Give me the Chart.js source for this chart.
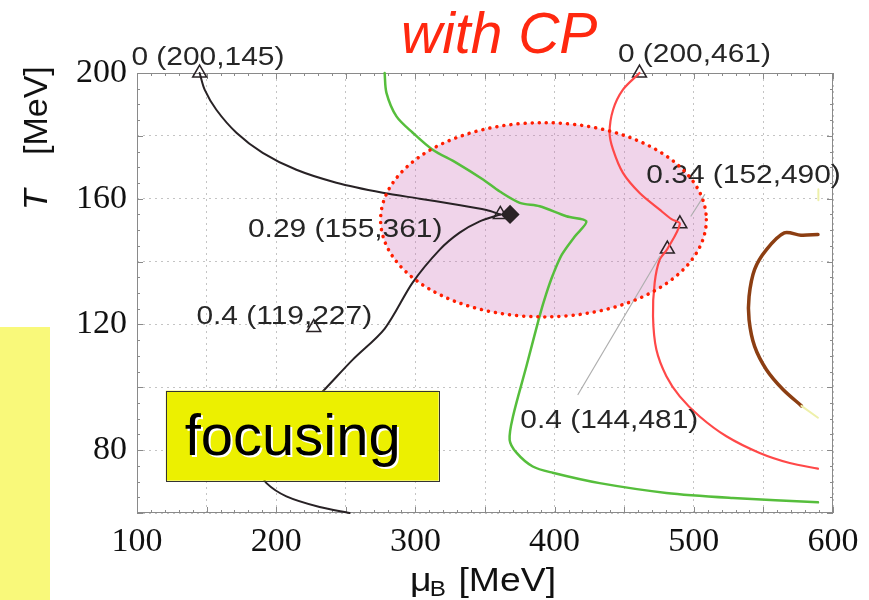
<!DOCTYPE html>
<html>
<head>
<meta charset="utf-8">
<script src="https://cdn.jsdelivr.net/npm/chart.js@4.4.1/dist/chart.umd.min.js"></script>
<style>
  html, body { margin: 0; padding: 0; background: #fff; }
  #wrap { position: relative; width: 869px; height: 600px; }
</style>
</head>
<body>
<div id="wrap"><canvas id="c" width="869" height="600"></canvas></div>
<script>
// Freeze-out trajectories in the (muB, T) plane, both in MeV: [muB, T]
const blackUpper = [[145,200],[148.6,194.7],[157,188.3],[171.4,181],[190.3,174.6],[214.5,169.2],[243.2,165.1],[276.5,161.9],[303.1,160],[326.8,158.3],[351,156.4],[361,155]];
const blackLower = [[252.8,60],[231.2,61.9],[207.3,65.3],[193,69.5],[190.3,72.5],[195.3,77],[209.7,86.5],[224,94.5],[234.8,99.3],[255,108.8],[278,118.7],[298,133.3],[317.5,143.8],[331.8,149.2],[346.2,152.8],[361,155]];
const greenLine = [[277.9,200],[279.2,193.7],[286.4,186.2],[298.1,181],[312.4,175.6],[329.5,171.4],[348.6,166.1],[360.6,162.3],[375,158.7],[389.3,157.6],[408.5,154.4],[422.8,152.8],[414.5,148],[405.2,142.2],[398.8,135.8],[393.8,129.5],[389.3,122.8],[379.7,106.6],[370.1,90.7],[367.7,83.3],[372.6,79.2],[384.3,74.8],[398.6,72.8],[432.4,69.5],[480.3,66.4],[528,64.8],[589.2,63.4]];
const redLine = [[461,200],[449.1,194.7],[442,188.3],[439.5,180.9],[442,175.6],[449.1,168.2],[461.1,161.8],[475.5,156.5],[484,153.5],[490,152],[481,144],[475.5,140.6],[471.9,133.3],[470.7,122.6],[473.1,112],[480.3,103.5],[489.9,97.1],[504.2,90.7],[523.4,84.4],[547.3,79.1],[568.9,75.9],[589.2,74.1]];
const brownLine = [[589.2,148.6],[577,148.4],[565,149.1],[552.2,143.8],[543.7,137.5],[539.7,128.9],[539.7,121.5],[543.7,113],[552.2,105.6],[564.1,99.3],[577.3,94.1]];
const brownTail = [[577.3,94.1],[589.2,90.3]];
const paleTick = [[589.5,163],[589.5,159.5]];

// Marked points on the trajectories and the critical point
const blackMarks = [[145,200],[361,155],[227,119]];
const redMarks = [[461,200],[490,152],[481,144]];
const criticalPoint = [[368,155]];

// Point labels and where their text starts (left, baseline) in [muB, T]
const markLabels = ['0 (200,145)','0.29 (155,361)','0.4 (119,227)','0 (200,461)','0.34 (152,490)','0.4 (144,481)'];
const markLabelAnchors = [[96,202.6],[179.7,147.9],[142.7,120.2],[445.5,203.6],[465.9,165.1],[375.4,87.1]];
// Leader lines from two labels to their marks
const leader1 = [[507.8,161.3],[498,154.5]];
const leader2 = [[416.8,97.7],[475.5,141.6]];

// Critical-point region: centre and half-widths in [muB, T]
const cpRegion = { mu: 392, T: 153.3, rMu: 117, rT: 30.9 };
// "focusing" box corners in [muB, T]
const focusBox = { left: 120.7, top: 98.9, right: 316.7, bottom: 70.3, textAt: [134.3, 78.3] };

const xTickLabels = [100,200,300,400,500,600];
const yTickLabels = [80,120,160,200];

const pts = a => a.map(p => ({ x: p[0], y: p[1] }));

function lineSet(data, color, width, tension) {
  return { data: pts(data), showLine: true, borderColor: color, borderWidth: width,
    pointRadius: 0, tension: tension === undefined ? 0.3 : tension, fill: false,
    borderCapStyle: 'round', borderJoinStyle: 'round', clip: false };
}
function markSet(data, style, radius, fillColor) {
  return { data: pts(data), showLine: false, pointStyle: style, pointRadius: radius,
    pointBorderColor: '#2a2326', pointBorderWidth: 1.5, pointBackgroundColor: fillColor, clip: false };
}

const decor = {
  id: 'decor',
  beforeDraw(chart) {
    const ctx = chart.ctx;
    ctx.save();
    ctx.fillStyle = '#fff';
    ctx.fillRect(0, 0, chart.width, chart.height);
    // yellow strip at the lower left
    ctx.fillStyle = 'rgb(249,249,122)';
    ctx.fillRect(0, 327, 50, 273);
    ctx.restore();
  },
  beforeDatasetsDraw(chart) {
    const { ctx, chartArea: a, scales: { x, y } } = chart;
    ctx.save();
    // frame and inward ticks
    ctx.strokeStyle = '#8a8a8a';
    ctx.lineWidth = 1;
    ctx.strokeRect(a.left + 0.5, a.top + 0.5, a.right - a.left - 1, a.bottom - a.top - 1);
    ctx.beginPath();
    for (let v = 100; v <= 600; v += 10) {
      const px = Math.round(x.getPixelForValue(v)) + 0.5;
      const len = v % 50 === 0 ? 6 : 3;
      ctx.moveTo(px, a.bottom); ctx.lineTo(px, a.bottom - len);
      ctx.moveTo(px, a.top); ctx.lineTo(px, a.top + len);
    }
    for (let v = 60; v <= 200; v += 5) {
      const py = Math.round(y.getPixelForValue(v)) + 0.5;
      const len = v % 20 === 0 ? 6 : 3;
      ctx.moveTo(a.left, py); ctx.lineTo(a.left + len, py);
      ctx.moveTo(a.right, py); ctx.lineTo(a.right - len, py);
    }
    ctx.stroke();
    // critical-point region fill
    const cx = x.getPixelForValue(cpRegion.mu), cy = y.getPixelForValue(cpRegion.T);
    const rx = x.getPixelForValue(cpRegion.mu + cpRegion.rMu) - cx;
    const ry = cy - y.getPixelForValue(cpRegion.T + cpRegion.rT);
    ctx.beginPath();
    ctx.ellipse(cx, cy, rx, ry, 0, 0, Math.PI * 2);
    ctx.fillStyle = 'rgba(205,112,185,0.3)';
    ctx.fill();
    ctx.restore();
  },
  afterDatasetsDraw(chart) {
    const { ctx, scales: { x, y } } = chart;
    ctx.save();
    // "focusing" box
    const bl = x.getPixelForValue(focusBox.left), bt = y.getPixelForValue(focusBox.top);
    const br = x.getPixelForValue(focusBox.right), bb = y.getPixelForValue(focusBox.bottom);
    ctx.fillStyle = 'rgb(236,240,0)';
    ctx.fillRect(bl, bt, br - bl, bb - bt);
    ctx.strokeStyle = '#333';
    ctx.lineWidth = 1;
    ctx.strokeRect(Math.round(bl) + 0.5, Math.round(bt) + 0.5, Math.round(br - bl), Math.round(bb - bt));
    ctx.font = '58px "Liberation Sans", Arial, sans-serif';
    ctx.textBaseline = 'alphabetic';
    ctx.textAlign = 'left';
    const fx = x.getPixelForValue(focusBox.textAt[0]), fy = y.getPixelForValue(focusBox.textAt[1]);
    ctx.fillStyle = '#fff';
    ctx.fillText('focusing', fx + 2, fy + 2);
    ctx.fillStyle = '#000';
    ctx.fillText('focusing', fx, fy);

    // point labels
    ctx.font = '26px "Liberation Sans", Arial, sans-serif';
    ctx.fillStyle = '#262626';
    markLabels.forEach((t, i) => {
      const px = x.getPixelForValue(markLabelAnchors[i][0]);
      const py = y.getPixelForValue(markLabelAnchors[i][1]);
      ctx.save();
      ctx.translate(px, py);
      ctx.scale(1.15, 1);
      ctx.fillText(t, 0, 0);
      ctx.restore();
    });

    // dotted border of the critical-point region
    const cx = x.getPixelForValue(cpRegion.mu), cy = y.getPixelForValue(cpRegion.T);
    const rx = x.getPixelForValue(cpRegion.mu + cpRegion.rMu) - cx;
    const ry = cy - y.getPixelForValue(cpRegion.T + cpRegion.rT);
    ctx.beginPath();
    ctx.ellipse(cx, cy, rx, ry, 0, 0, Math.PI * 2);
    ctx.strokeStyle = 'rgb(255,30,0)';
    ctx.lineWidth = 3.5;
    ctx.lineCap = 'round';
    ctx.setLineDash([0.1, 7]);
    ctx.stroke();
    ctx.setLineDash([]);
    ctx.restore();
  },
  afterDraw(chart) {
    const ctx = chart.ctx;
    ctx.save();
    // title
    ctx.font = 'italic 57px "Liberation Sans", Arial, sans-serif';
    ctx.fillStyle = 'rgb(255,40,15)';
    ctx.textBaseline = 'alphabetic';
    ctx.textAlign = 'left';
    ctx.fillText('with CP', 401, 53);

    // x axis title: muB [MeV]
    ctx.fillStyle = '#111';
    ctx.save();
    ctx.translate(410, 591);
    ctx.scale(1.1, 1);
    ctx.font = '34px "Liberation Sans", Arial, sans-serif';
    ctx.fillText('\u03bc', 0, 0);
    ctx.font = '22px "Liberation Sans", Arial, sans-serif';
    ctx.fillText('B', 18, 5);
    ctx.font = '34px "Liberation Sans", Arial, sans-serif';
    ctx.fillText('[MeV]', 44, 0);
    ctx.restore();

    // y axis title: T [MeV]
    ctx.save();
    ctx.translate(47, 210);
    ctx.rotate(-Math.PI / 2);
    ctx.font = 'italic 34px "Liberation Sans", Arial, sans-serif';
    ctx.fillText('T', 0, 0);
    ctx.font = '34px "Liberation Sans", Arial, sans-serif';
    ctx.fillText('[MeV]', 55, 0);
    ctx.restore();
    ctx.restore();
  }
};

new Chart(document.getElementById('c'), {
  type: 'scatter',
  data: {
    datasets: [
      lineSet(leader1, 'rgb(175,175,175)', 1.2, 0),
      lineSet(leader2, 'rgb(175,175,175)', 1.2, 0),
      lineSet(greenLine, 'rgb(86,190,60)', 2.5),
      lineSet(redLine, 'rgb(255,72,72)', 2.2),
      lineSet(brownTail, 'rgb(238,240,170)', 2, 0),
      lineSet(paleTick, 'rgb(238,240,170)', 2, 0),
      lineSet(brownLine, 'rgb(140,62,18)', 3.5),
      lineSet(blackUpper, 'rgb(40,34,37)', 2),
      lineSet(blackLower, 'rgb(40,34,37)', 2),
      markSet(blackMarks, 'triangle', 8, 'rgba(255,255,255,0)'),
      markSet(redMarks, 'triangle', 8, 'rgba(255,255,255,0)'),
      markSet(criticalPoint, 'rectRot', 8.5, '#2a2326')
    ]
  },
  options: {
    responsive: false,
    animation: false,
    devicePixelRatio: 1,
    events: [],
    layout: { padding: { left: 0, right: 36, top: 73, bottom: 0 } },
    plugins: { legend: { display: false }, tooltip: { enabled: false } },
    scales: {
      x: {
        type: 'linear', min: 100, max: 600,
        afterFit: s => { s.height = 87; },
        border: { display: false, dash: [2, 4] },
        grid: { color: 'rgb(196,196,196)', lineWidth: 1, drawTicks: false },
        ticks: {
          stepSize: 50, autoSkip: false, maxRotation: 0, padding: 9,
          color: '#111', font: { family: '"Liberation Serif", "Times New Roman", serif', size: 34 },
          callback: v => xTickLabels.includes(v) ? String(v) : ''
        }
      },
      y: {
        type: 'linear', min: 60, max: 200,
        afterFit: s => { s.width = 137; },
        border: { display: false, dash: [2, 4] },
        grid: { color: 'rgb(196,196,196)', lineWidth: 1, drawTicks: false },
        ticks: {
          stepSize: 20, autoSkip: false, padding: 10,
          color: '#111', font: { family: '"Liberation Serif", "Times New Roman", serif', size: 34 },
          callback: v => yTickLabels.includes(v) ? String(v) : ''
        }
      }
    }
  },
  plugins: [decor]
});
</script>
</body>
</html>
